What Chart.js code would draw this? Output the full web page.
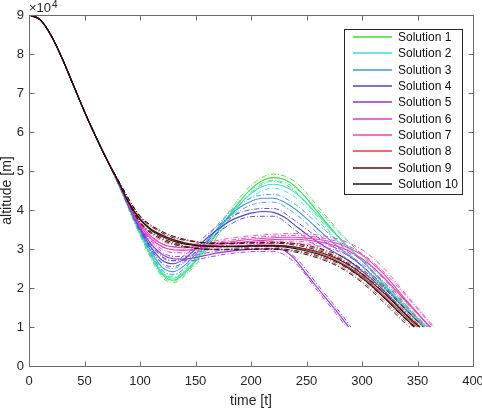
<!DOCTYPE html>
<html lang="en">
<head>
  <meta charset="UTF-8">
  <title>Altitude vs time</title>
  <script src="https://cdn.jsdelivr.net/npm/chart.js"></script>
  <style>
    html, body { margin: 0; padding: 0; background: #fff; }
  </style>
</head>
<body>
  <canvas id="altChart" width="482" height="414"></canvas>

  <script>
    // altitude values are in units of 1e4 m (axis shows x10^4)
    const labels = ['Solution 1', 'Solution 2', 'Solution 3', 'Solution 4', 'Solution 5',
                    'Solution 6', 'Solution 7', 'Solution 8', 'Solution 9', 'Solution 10'];
    const colors = ['#44dd33', '#3fdede', '#4a95dd', '#4747c8', '#8f33dc',
                    '#dd36dd', '#f2469f', '#e03c3c', '#5c0a0a', '#141414'];

    const xTicks = [0, 50, 100, 150, 200, 250, 300, 350, 400];
    const yTicks = [0, 1, 2, 3, 4, 5, 6, 7, 8, 9];

    // shared descent
    const headTime = [0, 10, 20, 30, 40, 50, 60, 70];
    const headAlt = [9.0, 8.88, 8.47, 7.88, 7.2, 6.52, 5.89, 5.3];

    // solid lines, t = 80, 90, 100 ...
    const tailTime = [80, 90, 100, 110, 120, 130, 140, 150, 160, 170, 180, 190, 200, 210, 220,
                      230, 240, 250, 260, 270, 280, 290, 300, 310, 320, 330, 340, 350, 360];
    const sol1 = [4.7, 4.05, 3.4, 2.82, 2.35, 2.2, 2.38, 2.68, 3.02, 3.43, 3.85, 4.22, 4.54, 4.75, 4.83, 4.78, 4.6, 4.3, 3.95, 3.6, 3.28, 2.98, 2.7, 2.4, 2.08, 1.76, 1.46, 1.18];
    const sol2 = [4.7, 4.05, 3.42, 2.85, 2.39, 2.25, 2.42, 2.72, 3.06, 3.45, 3.82, 4.15, 4.42, 4.6, 4.66, 4.6, 4.44, 4.18, 3.88, 3.56, 3.26, 2.98, 2.7, 2.42, 2.1, 1.8, 1.5, 1.22];
    const sol3 = [4.71, 4.07, 3.47, 2.94, 2.53, 2.42, 2.58, 2.87, 3.2, 3.53, 3.83, 4.07, 4.22, 4.3, 4.3, 4.2, 4.02, 3.78, 3.52, 3.26, 3.02, 2.8, 2.56, 2.3, 2.02, 1.72, 1.42, 1.15];
    const sol4 = [4.72, 4.09, 3.52, 3.04, 2.71, 2.62, 2.75, 3.0, 3.27, 3.5, 3.7, 3.83, 3.92, 3.96, 3.94, 3.82, 3.6, 3.38, 3.18, 3.0, 2.84, 2.66, 2.44, 2.2, 1.92, 1.62, 1.32, 1.05];
    const sol5 = [4.73, 4.11, 3.56, 3.13, 2.86, 2.75, 2.74, 2.78, 2.84, 2.9, 2.94, 2.97, 2.99, 3.0, 3.0, 2.96, 2.72, 2.36, 2.0, 1.65, 1.3];
    const sol6 = [4.74, 4.13, 3.61, 3.26, 3.06, 2.98, 2.97, 3.0, 3.05, 3.1, 3.14, 3.17, 3.2, 3.22, 3.24, 3.25, 3.25, 3.23, 3.19, 3.13, 3.05, 2.92, 2.75, 2.53, 2.26, 1.96, 1.65, 1.35, 1.03];
    const sol7 = [4.74, 4.15, 3.65, 3.32, 3.13, 3.05, 3.03, 3.05, 3.09, 3.14, 3.18, 3.22, 3.25, 3.27, 3.29, 3.3, 3.3, 3.28, 3.25, 3.2, 3.12, 3.0, 2.85, 2.62, 2.35, 2.02, 1.68, 1.36, 1.05];
    const sol8 = [4.76, 4.19, 3.77, 3.51, 3.35, 3.23, 3.15, 3.1, 3.08, 3.07, 3.07, 3.08, 3.09, 3.1, 3.1, 3.08, 3.04, 2.98, 2.9, 2.8, 2.67, 2.5, 2.3, 2.06, 1.8, 1.52, 1.25];
    const sol9 = [4.76, 4.19, 3.77, 3.51, 3.36, 3.24, 3.16, 3.11, 3.08, 3.07, 3.07, 3.07, 3.08, 3.09, 3.09, 3.08, 3.05, 3.0, 2.93, 2.84, 2.72, 2.56, 2.36, 2.12, 1.86, 1.58, 1.3, 1.05];
    const sol10 = [4.76, 4.18, 3.75, 3.48, 3.32, 3.2, 3.13, 3.09, 3.07, 3.06, 3.06, 3.06, 3.07, 3.07, 3.07, 3.05, 3.01, 2.95, 2.87, 2.77, 2.64, 2.47, 2.26, 2.02, 1.75, 1.47, 1.2];

    // dash-dot upper / lower lines
    const bandTime = [80, 100, 120, 130, 145, 160, 180, 200, 220, 240, 260, 280, 300, 320, 340];
    const hi1 = [4.71, 3.45, 2.42, 2.28, 2.6, 3.12, 3.95, 4.63, 4.92, 4.72, 4.1, 3.43, 2.84, 2.22, 1.6];
    const lo1 = [4.69, 3.35, 2.28, 2.14, 2.44, 2.93, 3.75, 4.45, 4.74, 4.48, 3.82, 3.14, 2.57, 1.95, 1.34];
    const hi2 = [4.71, 3.47, 2.46, 2.33, 2.66, 3.15, 3.92, 4.52, 4.76, 4.56, 4.02, 3.4, 2.84, 2.24, 1.63];
    const lo2 = [4.69, 3.37, 2.32, 2.18, 2.49, 2.97, 3.72, 4.32, 4.56, 4.32, 3.74, 3.12, 2.56, 1.97, 1.38];
    const hi3 = [4.72, 3.52, 2.61, 2.5, 2.8, 3.29, 3.92, 4.31, 4.4, 4.14, 3.65, 3.15, 2.69, 2.15, 1.55];
    const lo3 = [4.7, 3.42, 2.46, 2.35, 2.64, 3.11, 3.74, 4.13, 4.2, 3.9, 3.4, 2.9, 2.43, 1.9, 1.3];
    const hi4 = [4.73, 3.57, 2.79, 2.7, 2.95, 3.36, 3.79, 4.01, 4.04, 3.72, 3.3, 2.96, 2.57, 2.05, 1.45];
    const lo4 = [4.71, 3.47, 2.64, 2.55, 2.79, 3.18, 3.61, 3.83, 3.84, 3.48, 3.06, 2.72, 2.32, 1.8, 1.2];
    const hi5 = [4.74, 3.6, 2.92, 2.81, 2.82, 2.9, 3.0, 3.05, 3.06, 2.78, 2.08, 1.38];
    const lo5 = [4.72, 3.52, 2.81, 2.7, 2.7, 2.78, 2.88, 2.93, 2.94, 2.64, 1.93, 1.22];
    const hi6 = [4.75, 3.66, 3.13, 3.06, 3.06, 3.13, 3.22, 3.29, 3.33, 3.35, 3.3, 3.17, 2.88, 2.4, 1.79];
    const lo6 = [4.73, 3.56, 2.99, 2.91, 2.9, 2.97, 3.06, 3.11, 3.15, 3.15, 3.08, 2.93, 2.62, 2.13, 1.52];
    const hi7 = [4.75, 3.7, 3.2, 3.13, 3.12, 3.17, 3.27, 3.34, 3.38, 3.4, 3.36, 3.24, 2.98, 2.5, 1.82];
    const lo7 = [4.73, 3.6, 3.06, 2.98, 2.96, 3.01, 3.1, 3.16, 3.2, 3.2, 3.14, 3.0, 2.72, 2.22, 1.55];
    const hi8 = [4.78, 3.85, 3.44, 3.32, 3.21, 3.16, 3.15, 3.17, 3.18, 3.13, 3.0, 2.78, 2.42, 1.93, 1.38];
    const lo8 = [4.74, 3.69, 3.27, 3.15, 3.04, 3.0, 2.99, 3.01, 3.02, 2.95, 2.8, 2.56, 2.18, 1.68, 1.13];
    const hi9 = [4.78, 3.85, 3.45, 3.33, 3.22, 3.16, 3.15, 3.16, 3.17, 3.14, 3.03, 2.83, 2.48, 1.99, 1.43];
    const lo9 = [4.74, 3.69, 3.28, 3.16, 3.05, 3.0, 2.99, 3.0, 3.01, 2.96, 2.83, 2.61, 2.24, 1.74, 1.18];
    const hi10 = [4.78, 3.83, 3.41, 3.29, 3.2, 3.15, 3.14, 3.15, 3.15, 3.1, 2.97, 2.75, 2.38, 1.88, 1.33];
    const lo10 = [4.74, 3.67, 3.24, 3.12, 3.03, 2.99, 2.98, 2.99, 2.99, 2.92, 2.77, 2.53, 2.14, 1.62, 1.07];

    // every run stops at 1e4 m
    const endTime = [357, 359, 356, 352, 288, 361, 362, 350, 352, 347];
    const endTimeHi = [361, 362, 359, 355, 290, 364, 365, 353, 355, 351];
    const endTimeLo = [353, 355, 352, 348, 286, 357, 358, 347, 349, 343];
    const endAlt = 1.0;

    const mains = [sol1, sol2, sol3, sol4, sol5, sol6, sol7, sol8, sol9, sol10];
    const his = [hi1, hi2, hi3, hi4, hi5, hi6, hi7, hi8, hi9, hi10];
    const los = [lo1, lo2, lo3, lo4, lo5, lo6, lo7, lo8, lo9, lo10];

    function buildPoints(times, vals, tEnd) {
      const pts = headTime.map((t, i) => ({ x: t, y: headAlt[i] }));
      vals.forEach((v, i) => pts.push({ x: times[i], y: v }));
      pts.push({ x: tEnd, y: endAlt });
      return pts;
    }

    const datasets = [];
    labels.forEach((name, k) => {
      const common = {
        borderColor: colors[k],
        pointRadius: 0,
        fill: false,
        cubicInterpolationMode: 'monotone',
        order: 10 - k
      };
      datasets.push(Object.assign({ label: name, data: buildPoints(tailTime, mains[k], endTime[k]), borderWidth: 1.1 }, common));
      datasets.push(Object.assign({ label: name + ' hi', data: buildPoints(bandTime, his[k], endTimeHi[k]), borderWidth: 0.9, borderDash: [5, 2, 1, 2] }, common));
      datasets.push(Object.assign({ label: name + ' lo', data: buildPoints(bandTime, los[k], endTimeLo[k]), borderWidth: 0.9, borderDash: [5, 2, 1, 2] }, common));
    });

    const tickFont = { family: 'Liberation Sans', size: 13 };

    // box, inward ticks, x10^4 note and legend, drawn like the original figure
    const framePlugin = {
      id: 'frame',
      afterDraw(chart) {
        const ctx = chart.ctx;
        const a = chart.chartArea;
        const xs = chart.scales.x, ys = chart.scales.y;
        const L = Math.round(a.left) + 0.5, R = Math.round(a.right) + 0.5;
        const T = Math.round(a.top) + 0.5, B = Math.round(a.bottom) + 0.5;
        ctx.save();
        ctx.setLineDash([]);
        ctx.strokeStyle = '#6a6a6a';
        ctx.lineWidth = 1;
        ctx.beginPath();
        ctx.rect(L, T, R - L, B - T);
        xTicks.forEach(v => {
          const px = Math.round(xs.getPixelForValue(v)) + 0.5;
          ctx.moveTo(px, B); ctx.lineTo(px, B - 5);
          ctx.moveTo(px, T); ctx.lineTo(px, T + 5);
        });
        yTicks.forEach(v => {
          const py = Math.round(ys.getPixelForValue(v)) + 0.5;
          ctx.moveTo(L, py); ctx.lineTo(L + 5, py);
          ctx.moveTo(R, py); ctx.lineTo(R - 5, py);
        });
        ctx.stroke();

        // exponent note
        ctx.fillStyle = '#262626';
        ctx.textBaseline = 'alphabetic';
        ctx.textAlign = 'left';
        ctx.font = '13px "Liberation Sans"';
        ctx.fillText('\u00d710', 29, 12);
        const w = ctx.measureText('\u00d710').width;
        ctx.font = '10px "Liberation Sans"';
        ctx.fillText('4', 29 + w + 1, 8);

        // legend
        const bx = 344.5, by = 29.5, bw = 118, bh = 165;
        ctx.fillStyle = '#fff';
        ctx.fillRect(bx, by, bw, bh);
        ctx.strokeStyle = '#262626';
        ctx.lineWidth = 1;
        ctx.strokeRect(bx, by, bw, bh);
        ctx.font = '12px "Liberation Sans"';
        ctx.textBaseline = 'middle';
        labels.forEach((name, k) => {
          const yy = Math.round(37 + k * 16.33);
          ctx.strokeStyle = colors[k];
          ctx.lineWidth = 1.6;
          ctx.beginPath();
          ctx.moveTo(353, yy); ctx.lineTo(392, yy);
          ctx.stroke();
          ctx.fillStyle = '#111';
          ctx.fillText(name, 398, yy + 1);
        });
        ctx.restore();
      }
    };

    new Chart(document.getElementById('altChart'), {
      type: 'line',
      data: { datasets: datasets },
      options: {
        responsive: false,
        animation: false,
        devicePixelRatio: 1,
        layout: { padding: { left: 0, right: 9, top: 15, bottom: 0 } },
        plugins: {
          legend: { display: false },
          tooltip: { enabled: false }
        },
        scales: {
          x: {
            type: 'linear',
            min: 0,
            max: 400,
            afterBuildTicks: s => { s.ticks = xTicks.map(v => ({ value: v })); },
            afterFit: s => { s.height = 48; s.paddingLeft = 0; s.paddingRight = 0; },
            grid: { display: false, drawTicks: false },
            border: { display: false },
            ticks: { color: '#262626', font: tickFont, padding: 8, maxRotation: 0 },
            title: { display: true, text: 'time [t]', color: '#262626',
                     font: { family: 'Liberation Sans', size: 14 }, padding: { top: 0, bottom: 4 } }
          },
          y: {
            min: 0,
            max: 9,
            afterBuildTicks: s => { s.ticks = yTicks.map(v => ({ value: v })); },
            afterFit: s => { s.width = 29; s.paddingTop = 0; s.paddingBottom = 0; },
            grid: { display: false, drawTicks: false },
            border: { display: false },
            ticks: { color: '#262626', font: tickFont, padding: 5 },
            title: { display: true, text: 'altitude [m]', color: '#262626',
                     font: { family: 'Liberation Sans', size: 14, lineHeight: 1 }, padding: { top: 0, bottom: 0 } }
          }
        }
      },
      plugins: [framePlugin]
    });
  </script>
</body>
</html>
